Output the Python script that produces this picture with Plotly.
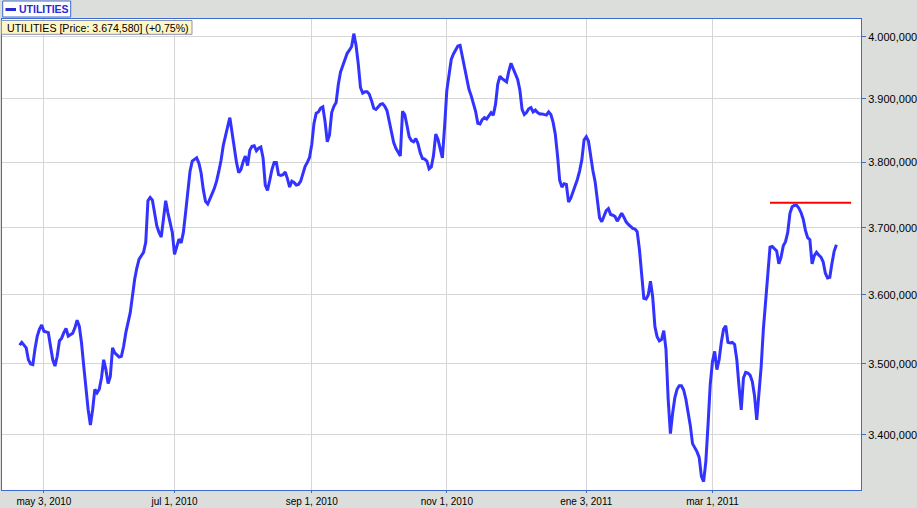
import plotly.graph_objects as go

# ---- data (dates and closing values of the UTILITIES series) ----
dates = [
    "2010-04-22", "2010-04-23", "2010-04-25", "2010-04-26", "2010-04-27", "2010-04-28", "2010-04-29", "2010-04-30",
    "2010-05-01", "2010-05-02", "2010-05-03", "2010-05-05", "2010-05-06", "2010-05-07", "2010-05-08", "2010-05-09",
    "2010-05-10", "2010-05-11", "2010-05-12", "2010-05-13", "2010-05-14", "2010-05-15", "2010-05-16", "2010-05-17",
    "2010-05-18", "2010-05-19", "2010-05-20", "2010-05-21", "2010-05-22", "2010-05-23", "2010-05-24", "2010-05-25",
    "2010-05-26", "2010-05-27", "2010-05-28", "2010-05-29", "2010-05-30", "2010-05-31",
    "2010-06-01", "2010-06-02", "2010-06-03", "2010-06-04", "2010-06-06", "2010-06-07", "2010-06-08", "2010-06-09",
    "2010-06-11", "2010-06-12", "2010-06-13", "2010-06-14", "2010-06-15", "2010-06-17", "2010-06-18", "2010-06-19",
    "2010-06-20", "2010-06-21", "2010-06-22", "2010-06-23", "2010-06-24", "2010-06-25", "2010-06-26", "2010-06-27",
    "2010-06-28", "2010-06-29", "2010-06-30",
    "2010-07-01", "2010-07-02", "2010-07-03", "2010-07-04", "2010-07-05", "2010-07-06", "2010-07-07", "2010-07-08",
    "2010-07-09", "2010-07-11", "2010-07-12", "2010-07-13", "2010-07-14", "2010-07-15", "2010-07-16", "2010-07-17",
    "2010-07-18", "2010-07-19", "2010-07-20", "2010-07-21", "2010-07-22", "2010-07-23", "2010-07-24", "2010-07-25",
    "2010-07-26", "2010-07-27", "2010-07-28", "2010-07-29", "2010-07-30", "2010-07-31",
    "2010-08-01", "2010-08-02", "2010-08-03", "2010-08-04", "2010-08-05", "2010-08-06", "2010-08-07", "2010-08-08",
    "2010-08-09", "2010-08-10", "2010-08-11", "2010-08-12", "2010-08-13", "2010-08-14", "2010-08-15", "2010-08-16",
    "2010-08-17", "2010-08-18", "2010-08-19", "2010-08-20", "2010-08-21", "2010-08-22", "2010-08-23", "2010-08-24",
    "2010-08-25", "2010-08-26", "2010-08-27", "2010-08-28", "2010-08-29", "2010-08-30", "2010-08-31",
    "2010-09-01", "2010-09-02", "2010-09-03", "2010-09-04", "2010-09-05", "2010-09-06", "2010-09-07", "2010-09-08",
    "2010-09-09", "2010-09-10", "2010-09-11", "2010-09-12", "2010-09-13", "2010-09-14", "2010-09-15", "2010-09-16",
    "2010-09-17", "2010-09-18", "2010-09-19", "2010-09-20", "2010-09-21", "2010-09-22", "2010-09-23", "2010-09-24",
    "2010-09-25", "2010-09-26", "2010-09-27", "2010-09-28", "2010-09-29", "2010-09-30",
    "2010-10-01", "2010-10-02", "2010-10-03", "2010-10-04", "2010-10-05", "2010-10-06", "2010-10-07", "2010-10-08",
    "2010-10-09", "2010-10-10", "2010-10-11", "2010-10-12", "2010-10-13", "2010-10-14", "2010-10-15", "2010-10-16",
    "2010-10-17", "2010-10-18", "2010-10-19", "2010-10-20", "2010-10-21", "2010-10-22", "2010-10-23", "2010-10-24",
    "2010-10-25", "2010-10-26", "2010-10-27", "2010-10-28", "2010-10-29", "2010-10-30", "2010-10-31",
    "2010-11-01", "2010-11-02", "2010-11-03", "2010-11-04", "2010-11-05", "2010-11-06", "2010-11-07", "2010-11-08",
    "2010-11-09", "2010-11-10", "2010-11-11", "2010-11-12", "2010-11-13", "2010-11-14", "2010-11-15", "2010-11-16",
    "2010-11-17", "2010-11-18", "2010-11-19", "2010-11-20", "2010-11-21", "2010-11-22", "2010-11-23", "2010-11-24",
    "2010-11-25", "2010-11-26", "2010-11-27", "2010-11-28", "2010-11-29", "2010-11-30",
    "2010-12-01", "2010-12-02", "2010-12-03", "2010-12-04", "2010-12-05", "2010-12-06", "2010-12-07", "2010-12-08",
    "2010-12-09", "2010-12-10", "2010-12-11", "2010-12-12", "2010-12-13", "2010-12-14", "2010-12-15", "2010-12-16",
    "2010-12-17", "2010-12-18", "2010-12-19", "2010-12-20", "2010-12-21", "2010-12-22", "2010-12-23", "2010-12-24",
    "2010-12-25", "2010-12-26", "2010-12-27", "2010-12-28", "2010-12-29", "2010-12-30", "2010-12-31",
    "2011-01-01", "2011-01-02", "2011-01-03", "2011-01-04", "2011-01-05", "2011-01-06", "2011-01-07", "2011-01-08",
    "2011-01-09", "2011-01-10", "2011-01-11", "2011-01-12", "2011-01-13", "2011-01-14", "2011-01-15", "2011-01-16",
    "2011-01-17", "2011-01-18", "2011-01-19", "2011-01-20", "2011-01-21", "2011-01-22", "2011-01-23", "2011-01-24",
    "2011-01-25", "2011-01-26", "2011-01-27", "2011-01-28", "2011-01-29", "2011-01-30", "2011-01-31",
    "2011-02-01", "2011-02-02", "2011-02-03", "2011-02-04", "2011-02-05", "2011-02-06", "2011-02-07", "2011-02-08",
    "2011-02-09", "2011-02-10", "2011-02-11", "2011-02-12", "2011-02-13", "2011-02-14", "2011-02-15", "2011-02-16",
    "2011-02-17", "2011-02-18", "2011-02-19", "2011-02-20", "2011-02-21", "2011-02-22", "2011-02-23", "2011-02-24",
    "2011-02-25", "2011-02-26", "2011-02-27", "2011-02-28",
    "2011-03-01", "2011-03-02", "2011-03-03", "2011-03-04", "2011-03-05", "2011-03-06", "2011-03-07", "2011-03-08",
    "2011-03-09", "2011-03-10", "2011-03-11", "2011-03-12", "2011-03-13", "2011-03-14", "2011-03-15", "2011-03-16",
    "2011-03-17", "2011-03-18", "2011-03-19", "2011-03-20", "2011-03-21", "2011-03-22", "2011-03-23", "2011-03-24",
    "2011-03-25", "2011-03-26", "2011-03-27", "2011-03-28", "2011-03-29", "2011-03-30", "2011-03-31",
    "2011-04-01", "2011-04-02", "2011-04-03", "2011-04-04", "2011-04-05", "2011-04-06", "2011-04-07", "2011-04-08",
    "2011-04-09", "2011-04-10", "2011-04-11", "2011-04-12", "2011-04-13", "2011-04-14", "2011-04-15", "2011-04-16",
    "2011-04-17", "2011-04-18", "2011-04-19", "2011-04-20", "2011-04-21", "2011-04-22", "2011-04-23", "2011-04-24",
    "2011-04-25", "2011-04-26",
]

prices = [
    3527, 3531, 3523, 3506, 3500, 3499, 3522, 3540,
    3550, 3556, 3547, 3545, 3525, 3506, 3497, 3511,
    3533, 3537, 3545, 3551, 3540, 3542, 3544, 3552,
    3563, 3554, 3530, 3497, 3464, 3435, 3414, 3435,
    3464, 3459, 3464, 3480, 3506, 3492,
    3472, 3482, 3523, 3516, 3510, 3511, 3525, 3545,
    3574, 3603, 3623, 3640, 3653, 3663, 3678, 3741,
    3746, 3742, 3722, 3703, 3693, 3686, 3713, 3741,
    3723, 3708, 3693,
    3660, 3673, 3683, 3677, 3693, 3723, 3759, 3786,
    3802, 3807, 3799, 3784, 3758, 3740, 3736, 3743,
    3752, 3760, 3771, 3786, 3803, 3826, 3843, 3856,
    3870, 3845, 3818, 3800, 3784, 3789,
    3801, 3810, 3795, 3819, 3825, 3826, 3818, 3822,
    3824, 3807, 3765, 3757, 3772, 3789, 3800, 3800,
    3781, 3780, 3781, 3785, 3775, 3762, 3771, 3769,
    3765, 3766, 3771, 3782, 3794, 3800, 3808,
    3828, 3861, 3877, 3879, 3885, 3887, 3864, 3832,
    3843, 3878, 3888, 3894, 3923, 3943, 3953, 3963,
    3973, 3978, 3984, 4005, 3986, 3956, 3918, 3909,
    3911, 3911, 3907, 3897, 3885, 3883,
    3887, 3891, 3892, 3888, 3881, 3866, 3847, 3831,
    3822, 3816, 3810, 3880, 3875, 3858, 3840, 3834,
    3832, 3837, 3829, 3815, 3806, 3805, 3802, 3790,
    3793, 3811, 3844, 3836, 3819, 3807, 3856,
    3913, 3938, 3963, 3972, 3978, 3985, 3986, 3968,
    3950, 3931, 3915, 3905, 3894, 3880, 3861, 3860,
    3867, 3870, 3868, 3874, 3878, 3874, 3891, 3923,
    3936, 3932, 3929, 3927, 3944, 3957,
    3948, 3940, 3931, 3914, 3883, 3875, 3878, 3884,
    3886, 3879, 3882, 3878, 3876, 3876, 3875, 3874,
    3879, 3875, 3863, 3844, 3811, 3772, 3762, 3767,
    3766, 3739, 3745, 3755, 3763, 3774, 3787,
    3804, 3835, 3840, 3833, 3807, 3787, 3770, 3738,
    3715, 3709, 3719, 3726, 3729, 3720, 3719, 3717,
    3710, 3716, 3722, 3716, 3709, 3705, 3702, 3699,
    3698, 3694, 3668, 3625, 3595, 3594, 3600,
    3620, 3597, 3554, 3539, 3533, 3535, 3548, 3521,
    3450, 3402, 3430, 3452, 3464, 3469, 3469, 3463,
    3450, 3434, 3413, 3388, 3383, 3377, 3369, 3343,
    3336, 3363, 3414, 3471,
    3503, 3518, 3492, 3506, 3531, 3550, 3555, 3531,
    3530, 3531, 3528, 3506, 3468, 3435, 3480, 3488,
    3487, 3484, 3475, 3455, 3421, 3457, 3496, 3550,
    3593, 3633, 3671, 3672, 3669, 3665, 3646,
    3656, 3673, 3679, 3693, 3722, 3732, 3734, 3734,
    3730, 3723, 3713, 3696, 3685, 3682, 3646, 3658,
    3663, 3659, 3656, 3649, 3632, 3625, 3626, 3647,
    3665, 3674.58,
]

resistance_dates = ["2011-03-27", "2011-05-02 15:00"]
resistance_values = [3738, 3738]

y_ticks = [3400, 3500, 3600, 3700, 3800, 3900, 4000]
y_labels = ["3.400,000", "3.500,000", "3.600,000", "3.700,000", "3.800,000", "3.900,000", "4.000,000"]

x_ticks = ["2010-05-03", "2010-07-01", "2010-09-01", "2010-11-01", "2011-01-03", "2011-03-01"]
x_labels = ["may 3, 2010", "jul 1, 2010", "sep 1, 2010", "nov 1, 2010", "ene 3, 2011", "mar 1, 2011"]

series_name = "UTILITIES"
info_text = "UTILITIES [Price: 3.674,580] (+0,75%)"

assert len(dates) == len(prices)

# ---- figure ----
W, H = 917, 508
ML, MR, MT, MB = 2, 56, 19, 18
PW, PH = W - ML - MR, H - MT - MB


def px(x):
    return (x - ML) / PW


def py(y):
    return (H - MB - y) / PH


AXIS_BLUE = "#3d6bd0"
FONT = "Liberation Sans, Arial, sans-serif"

fig = go.Figure()
fig.add_trace(go.Scatter(x=dates, y=prices, mode="lines", name=series_name,
                         line=dict(color="#3333ff", width=3), hoverinfo="skip"))
fig.add_trace(go.Scatter(x=resistance_dates, y=resistance_values, mode="lines",
                         line=dict(color="#ff0000", width=2), hoverinfo="skip"))

fig.update_layout(
    width=W, height=H,
    margin=dict(l=ML, r=MR, t=MT, b=MB, pad=0),
    paper_bgcolor="#dcdedb",
    plot_bgcolor="#ffffff",
    showlegend=False,
    font=dict(family=FONT, size=11, color="#000000"),
)

fig.update_xaxes(
    type="date",
    range=["2010-04-14 01:40", "2011-05-07 02:24"],
    tickvals=x_ticks, ticktext=x_labels,
    showgrid=True, gridcolor="#d6d6d6", gridwidth=1,
    showline=True, mirror=True, linecolor=AXIS_BLUE, linewidth=1,
    ticks="outside", ticklen=2, tickcolor=AXIS_BLUE,
    tickfont=dict(family=FONT, size=10, color="#000000"),
    zeroline=False, fixedrange=True, automargin=False,
)
fig.update_yaxes(
    type="log", side="right",
    range=[3.52173, 3.605197],
    tickvals=y_ticks, ticktext=y_labels,
    showgrid=True, gridcolor="#d6d6d6", gridwidth=1,
    showline=True, mirror=True, linecolor=AXIS_BLUE, linewidth=1,
    ticks="outside", ticklen=4, tickcolor=AXIS_BLUE,
    tickfont=dict(family=FONT, size=11, color="#000000"),
    zeroline=False, fixedrange=True, automargin=False,
)

shapes = [
    # legend box
    dict(type="rect", xref="paper", yref="paper",
         x0=px(2.7), x1=px(70.7), y0=py(17), y1=py(1),
         line=dict(color=AXIS_BLUE, width=1), fillcolor="#ffffff", layer="above"),
    # legend line sample
    dict(type="line", xref="paper", yref="paper",
         x0=px(5.5), x1=px(16), y0=py(9.5), y1=py(9.5),
         line=dict(color="#2a2ad6", width=3), layer="above"),
    # info box
    dict(type="rect", xref="paper", yref="paper",
         x0=px(1.5), x1=px(192), y0=py(34.3), y1=py(20.5),
         line=dict(color="#8a93b8", width=1), fillcolor="#fff6c6", layer="above"),
]
fig.update_layout(shapes=shapes)

fig.add_annotation(xref="paper", yref="paper", x=px(16.5), y=py(9.5),
                   xanchor="left", yanchor="middle", showarrow=False,
                   text="<b>" + series_name + "</b>",
                   font=dict(family=FONT, size=10.5, color="#2a2ad6"))
fig.add_annotation(xref="paper", yref="paper", x=px(5), y=py(27.6),
                   xanchor="left", yanchor="middle", showarrow=False,
                   text=info_text,
                   font=dict(family=FONT, size=10.6, color="#000000"))

fig.write_html(
    "out.html",
    config={"displayModeBar": False, "staticPlot": True},
    post_script="document.body.style.margin='0';document.body.style.padding='0';"
                "document.body.style.overflow='hidden';",
)
